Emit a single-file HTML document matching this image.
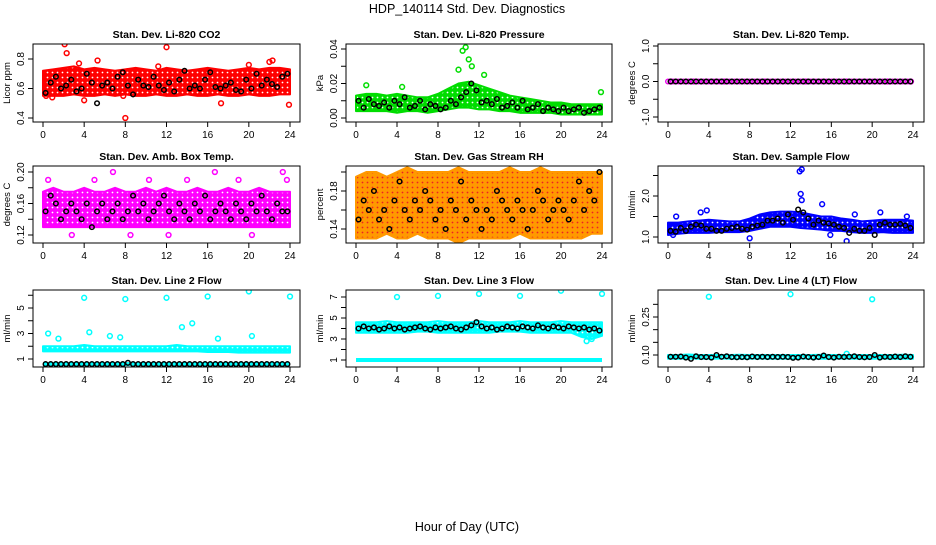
<!DOCTYPE html>
<html><head><meta charset="utf-8"><style>
body{margin:0;background:#fff}
svg text{font-family:"Liberation Sans",sans-serif}
</style></head><body>
<svg id="c" width="936" height="540" xmlns="http://www.w3.org/2000/svg">
<rect width="936" height="540" fill="#fff"/>
<text x="467" y="13" text-anchor="middle" font-size="12.5">HDP_140114  Std. Dev. Diagnostics</text>
<text x="467" y="531" text-anchor="middle" font-size="12.5">Hour of Day (UTC)</text>
</svg>
<script>
// ---- data ----
const bandHours=[0,1,2,3,4,5,6,7,8,9,10,11,12,13,14,15,16,17,18,19,20,21,22,23,24];
const xTicks=[0,4,8,12,16,20,24];
const co2Lo=[0.55,0.55,0.55,0.56,0.55,0.55,0.56,0.55,0.56,0.55,0.55,0.56,0.55,0.55,0.56,0.55,0.55,0.56,0.55,0.55,0.56,0.55,0.55,0.56,0.56];
const co2Hi=[0.72,0.73,0.74,0.75,0.73,0.74,0.73,0.72,0.73,0.74,0.73,0.72,0.74,0.73,0.72,0.73,0.74,0.73,0.72,0.73,0.74,0.73,0.74,0.74,0.73];
const co2Black=[0.57,0.64,0.68,0.60,0.62,0.66,0.58,0.60,0.70,0.64,0.50,0.62,0.64,0.60,0.68,0.71,0.62,0.56,0.66,0.62,0.61,0.68,0.62,0.59,0.64,0.58,0.66,0.72,0.60,0.62,0.60,0.66,0.71,0.61,0.60,0.62,0.64,0.59,0.58,0.66,0.60,0.70,0.62,0.66,0.63,0.61,0.68,0.70];
const co2OutH=[0.3,2.1,2.3,3.5,4.0,5.3,7.8,8.0,11.2,12.0,17.3,20.0,22.0,22.3,23.9,0.9];
const co2OutV=[0.55,0.90,0.84,0.77,0.52,0.79,0.55,0.40,0.75,0.88,0.50,0.76,0.78,0.79,0.49,0.54];
const presLo=[0.004,0.004,0.004,0.004,0.003,0.004,0.004,0.003,0.004,0.005,0.006,0.006,0.005,0.005,0.004,0.004,0.003,0.003,0.003,0.003,0.002,0.002,0.002,0.002,0.002];
const presHi=[0.013,0.014,0.014,0.013,0.014,0.013,0.012,0.012,0.014,0.017,0.02,0.021,0.019,0.017,0.015,0.013,0.012,0.011,0.01,0.009,0.009,0.008,0.008,0.008,0.008];
const presBlack=[0.010,0.006,0.011,0.008,0.007,0.009,0.006,0.010,0.008,0.012,0.006,0.007,0.010,0.005,0.008,0.007,0.005,0.006,0.010,0.008,0.012,0.015,0.020,0.016,0.009,0.010,0.008,0.011,0.006,0.007,0.009,0.006,0.010,0.005,0.006,0.008,0.004,0.006,0.005,0.004,0.006,0.004,0.005,0.006,0.003,0.004,0.005,0.006];
const presOutH=[1.0,4.5,10.0,10.4,10.7,11.0,11.3,12.5,23.9];
const presOutV=[0.019,0.018,0.028,0.039,0.041,0.034,0.030,0.025,0.015];
const tempLo=[0,0,0,0,0,0,0,0,0,0,0,0,0,0,0,0,0,0,0,0,0,0,0,0,0];
const tempHi=[0,0,0,0,0,0,0,0,0,0,0,0,0,0,0,0,0,0,0,0,0,0,0,0,0];
const tempBlack=[0,0,0,0,0,0,0,0,0,0,0,0,0,0,0,0,0,0,0,0,0,0,0,0,0,0,0,0,0,0,0,0,0,0,0,0,0,0,0,0,0,0,0,0,0,0,0,0];
const tempOutH=[0.3,2.5,5.5,9.5,13.5,17.5,21.5,23.8];
const tempOutV=[0,0,0,0,0,0,0,0];
const ambLo=[0.13,0.13,0.13,0.13,0.13,0.13,0.13,0.13,0.13,0.13,0.13,0.13,0.13,0.13,0.13,0.13,0.13,0.13,0.13,0.13,0.13,0.13,0.13,0.13,0.13];
const ambHi=[0.175,0.18,0.175,0.175,0.18,0.175,0.175,0.18,0.175,0.175,0.18,0.175,0.18,0.175,0.175,0.18,0.175,0.175,0.18,0.175,0.175,0.18,0.175,0.175,0.175];
const ambBlack=[0.15,0.17,0.16,0.14,0.15,0.16,0.15,0.14,0.16,0.13,0.15,0.16,0.14,0.15,0.16,0.14,0.15,0.17,0.15,0.16,0.14,0.15,0.16,0.17,0.15,0.14,0.16,0.15,0.14,0.16,0.15,0.17,0.14,0.15,0.16,0.15,0.14,0.16,0.15,0.14,0.16,0.15,0.17,0.15,0.14,0.16,0.15,0.15];
const ambOutH=[0.5,2.8,5.0,6.8,8.5,10.3,12.2,14.0,16.7,19.0,20.3,23.3,23.7];
const ambOutV=[0.19,0.12,0.19,0.20,0.12,0.19,0.12,0.19,0.20,0.19,0.12,0.20,0.19];
const rhLo=[0.13,0.13,0.13,0.135,0.13,0.13,0.135,0.13,0.13,0.13,0.125,0.13,0.13,0.13,0.13,0.13,0.135,0.13,0.13,0.13,0.13,0.13,0.13,0.135,0.135];
const rhHi=[0.195,0.2,0.2,0.195,0.2,0.205,0.2,0.2,0.2,0.2,0.205,0.2,0.2,0.2,0.2,0.205,0.2,0.2,0.205,0.2,0.2,0.2,0.2,0.2,0.2];
const rhBlack=[0.15,0.17,0.16,0.18,0.15,0.16,0.14,0.17,0.19,0.16,0.15,0.17,0.16,0.18,0.17,0.15,0.16,0.14,0.17,0.16,0.19,0.15,0.17,0.16,0.14,0.16,0.15,0.18,0.17,0.16,0.15,0.17,0.16,0.14,0.16,0.18,0.17,0.15,0.16,0.17,0.16,0.15,0.17,0.19,0.16,0.18,0.17,0.2];
const rhOutH=[1.5,5.3,7.7,10.1,11.7,15.5,19.0,23.5];
const rhOutV=[0.21,0.22,0.21,0.12,0.12,0.21,0.21,0.21];
const sfLo=[1.05,1.08,1.1,1.1,1.1,1.12,1.12,1.12,1.15,1.2,1.25,1.25,1.25,1.22,1.2,1.18,1.15,1.15,1.12,1.1,1.1,1.12,1.1,1.1,1.1];
const sfHi=[1.35,1.35,1.38,1.4,1.42,1.4,1.38,1.38,1.45,1.55,1.6,1.62,1.62,1.6,1.55,1.5,1.5,1.45,1.42,1.38,1.4,1.42,1.42,1.42,1.4];
const sfBlack=[1.15,1.13,1.22,1.15,1.25,1.3,1.28,1.2,1.2,1.15,1.15,1.2,1.22,1.25,1.2,1.18,1.25,1.28,1.3,1.4,1.4,1.45,1.35,1.55,1.42,1.67,1.6,1.45,1.3,1.4,1.35,1.33,1.3,1.25,1.22,1.1,1.2,1.15,1.15,1.22,1.05,1.3,1.35,1.3,1.3,1.32,1.28,1.22];
const sfOutH=[0.5,0.8,3.2,3.8,8.0,12.9,13.0,13.1,13.1,15.1,15.9,17.5,18.3,20.8,23.4];
const sfOutV=[1.05,1.5,1.6,1.65,0.97,2.6,2.05,1.9,2.65,1.8,1.05,0.9,1.55,1.6,1.5];
const l2Lo=[1.6,1.6,1.6,1.6,1.6,1.6,1.6,1.6,1.6,1.6,1.6,1.6,1.6,1.6,1.6,1.6,1.55,1.55,1.55,1.5,1.5,1.5,1.5,1.5,1.5];
const l2Hi=[2.0,2.0,2.0,2.0,2.1,2.0,2.0,2.0,2.0,2.0,2.0,2.0,2.0,2.1,2.0,2.0,2.0,2.0,2.0,2.0,2.0,2.0,2.0,2.0,2.0];
const l2Black=[0.6,0.6,0.6,0.6,0.6,0.6,0.6,0.6,0.6,0.6,0.6,0.6,0.6,0.6,0.6,0.6,0.7,0.6,0.6,0.6,0.6,0.6,0.6,0.6,0.6,0.6,0.6,0.6,0.6,0.6,0.6,0.6,0.6,0.6,0.6,0.6,0.6,0.6,0.6,0.6,0.6,0.6,0.6,0.6,0.6,0.6,0.6,0.6];
const l2OutH=[0.5,1.5,4.0,4.5,6.5,7.5,8.0,12.0,13.5,14.5,16.0,17.0,20.0,20.3,24.0];
const l2OutV=[3.0,2.6,5.8,3.1,2.8,2.7,5.7,5.8,3.5,3.8,5.9,2.6,6.3,2.8,5.9];
const l3Lo=[3.6,3.6,3.6,3.6,3.6,3.6,3.7,3.7,3.6,3.6,3.6,3.6,3.6,3.6,3.7,3.7,3.7,3.6,3.6,3.6,3.6,3.6,3.2,3.0,3.3];
const l3Hi=[4.6,4.6,4.6,4.7,4.6,4.6,4.6,4.6,4.7,4.6,4.6,4.6,4.7,4.6,4.6,4.6,4.7,4.6,4.6,4.6,4.7,4.6,4.6,4.6,4.6];
const l3Black=[4.0,4.2,4.0,4.1,3.9,4.0,4.2,4.0,4.1,3.9,4.0,4.1,4.2,4.0,3.9,4.1,4.0,4.1,4.2,4.0,3.9,4.1,4.3,4.6,4.2,4.0,4.1,3.9,4.0,4.2,4.1,4.0,4.2,4.1,4.0,4.3,4.1,4.0,4.2,4.1,4.0,4.2,4.1,4.0,4.1,3.9,4.0,3.8];
const l3OutH=[4.0,8.0,12.0,16.0,20.0,24.0,22.5,23.0];
const l3OutV=[7.0,7.1,7.3,7.1,7.6,7.3,2.8,3.0];
const l4Lo=[0.085,0.085,0.086,0.085,0.085,0.086,0.085,0.085,0.085,0.086,0.085,0.085,0.085,0.086,0.085,0.085,0.085,0.086,0.085,0.085,0.085,0.086,0.085,0.085,0.085];
const l4Hi=[0.1,0.1,0.102,0.1,0.1,0.1,0.1,0.101,0.1,0.1,0.1,0.1,0.1,0.1,0.1,0.101,0.1,0.1,0.1,0.1,0.1,0.1,0.1,0.101,0.1];
const l4Black=[0.093,0.093,0.094,0.09,0.085,0.095,0.092,0.092,0.09,0.1,0.093,0.095,0.092,0.091,0.092,0.091,0.094,0.092,0.093,0.092,0.093,0.092,0.093,0.092,0.089,0.09,0.094,0.092,0.09,0.092,0.098,0.092,0.09,0.093,0.092,0.093,0.095,0.092,0.091,0.092,0.1,0.09,0.093,0.092,0.094,0.092,0.095,0.093];
const l4OutH=[4.0,12.0,20.0,17.5];
const l4OutV=[0.33,0.34,0.32,0.105];

// ---- layout ----
const cols=[{l:33,r:300,x0:43,x1:290},{l:346,r:612,x0:356,x1:602},{l:658,r:924,x0:668,x1:913}];
const rows=[{t:44,b:122},{t:166,b:243},{t:290,b:367}];
const panels=[
 {n:'co2',title:'Stan. Dev. Li-820 CO2',yl:'Licor ppm',c:0,r:0,col:'#f00',v0:0.4,p0:118,v1:0.8,p1:59,ticks:[0.4,0.6,0.8],lab:['0.4','0.6','0.8'],lo:co2Lo,hi:co2Hi,bk:co2Black,oh:co2OutH,ov:co2OutV},
 {n:'pressure',title:'Stan. Dev. Li-820 Pressure',yl:'kPa',c:1,r:0,col:'#0d0',v0:0,p0:118,v1:0.04,p1:49,ticks:[0,0.01,0.02,0.03,0.04],lab:['0.00','','0.02','','0.04'],lo:presLo,hi:presHi,bk:presBlack,oh:presOutH,ov:presOutV},
 {n:'temp',title:'Stan. Dev. Li-820 Temp.',yl:'degrees C',c:2,r:0,col:'#e0e',v0:-1,p0:117,v1:1,p1:46,ticks:[-1,-0.5,0,0.5,1],lab:['-1.0','','0.0','','1.0'],lo:tempLo,hi:tempHi,bk:tempBlack,oh:tempOutH,ov:tempOutV},
 {n:'amb-box',title:'Stan. Dev. Amb. Box Temp.',yl:'degrees C',c:0,r:1,col:'#f0f',v0:0.12,p0:235,v1:0.20,p1:172,ticks:[0.12,0.14,0.16,0.18,0.20],lab:['0.12','','0.16','','0.20'],lo:ambLo,hi:ambHi,bk:ambBlack,oh:ambOutH,ov:ambOutV},
 {n:'gas-rh',title:'Stan. Dev. Gas Stream RH',yl:'percent',c:1,r:1,col:'#f90',v0:0.14,p0:229,v1:0.18,p1:191,ticks:[0.14,0.16,0.18,0.20],lab:['0.14','','0.18',''],lo:rhLo,hi:rhHi,bk:rhBlack,oh:rhOutH,ov:rhOutV},
 {n:'sample-flow',title:'Stan. Dev. Sample Flow',yl:'ml/min',c:2,r:1,col:'#00f',v0:1,p0:237,v1:2,p1:196,ticks:[1,1.5,2,2.5],lab:['1.0','','2.0',''],lo:sfLo,hi:sfHi,bk:sfBlack,oh:sfOutH,ov:sfOutV},
 {n:'line2',title:'Stan. Dev. Line 2 Flow',yl:'ml/min',c:0,r:2,col:'#0ff',v0:1,p0:359,v1:5,p1:308,ticks:[1,2,3,4,5,6],lab:['1','','3','','5',''],lo:l2Lo,hi:l2Hi,bk:l2Black,oh:l2OutH,ov:l2OutV},
 {n:'line3',title:'Stan. Dev. Line 3 Flow',yl:'ml/min',c:1,r:2,col:'#0ff',v0:1,p0:360,v1:7,p1:297,ticks:[1,2,3,4,5,6,7],lab:['1','','3','','5','','7'],lo:l3Lo,hi:l3Hi,bk:l3Black,oh:l3OutH,ov:l3OutV,extra:1.0},
 {n:'line4',title:'Stan. Dev. Line 4 (LT) Flow',yl:'ml/min',c:2,r:2,col:'#0ff',v0:0.10,p0:355,v1:0.25,p1:317,ticks:[0.10,0.15,0.20,0.25,0.30],lab:['0.10','','','0.25',''],lo:l4Lo,hi:l4Hi,bk:l4Black,oh:l4OutH,ov:l4OutV}
];
const svg=document.getElementById('c');
const NS='http://www.w3.org/2000/svg';
function mk(tag,attrs,parent){const e=document.createElementNS(NS,tag);for(const k in attrs)e.setAttribute(k,attrs[k]);(parent||svg).appendChild(e);return e;}
const defs=mk('defs',{});
panels.forEach(p=>{
 const C=cols[p.c],R=rows[p.r];
 const pid='pat'+p.n;
 const pat=mk('pattern',{id:pid,width:5,height:5,patternUnits:'userSpaceOnUse'},defs);
 mk('rect',{width:5,height:5,fill:p.col},pat);
 mk('circle',{cx:2.5,cy:2.5,r:0.9,fill:p.n==='gas-rh'?'#e22':'#fff'},pat);
 const g=mk('g',{});
 
 
 const xs=h=>C.x0+(C.x1-C.x0)*h/24;
 const ys=v=>p.p0+(p.p1-p.p0)*(v-p.v0)/(p.v1-p.v0);
 const clip='cl'+p.n;
 const cp=mk('clipPath',{id:clip},g);mk('rect',{x:C.l,y:R.t,width:C.r-C.l,height:R.b-R.t},cp);
 const dg=mk('g',{'clip-path':'url(#'+clip+')'},g);
 let pts=[];bandHours.forEach((h,i)=>pts.push(xs(h)+','+ys(p.hi[i])));
 for(let i=bandHours.length-1;i>=0;i--)pts.push(xs(bandHours[i])+','+ys(p.lo[i]));
 if(p.n!=='temp'){
  const band=mk('polygon',{points:pts.join(' '),fill:'url(#'+pid+')',stroke:p.col,'stroke-width':2,'stroke-linejoin':'round'},dg);
  
  
 }
 if(p.extra!==undefined){const l=mk('line',{x1:xs(0),x2:xs(24),y1:ys(p.extra),y2:ys(p.extra),stroke:p.col,'stroke-width':4},dg);}
 if(p.n==='line2'){const l=mk('line',{x1:xs(0),x2:xs(24),y1:ys(0.6),y2:ys(0.6),stroke:p.col,'stroke-width':4},dg);}
 if(p.n==='temp'){bandHours.forEach((h,i)=>{if(i>=24)return;for(let k=0;k<4;k++){const d=mk('circle',{cx:xs(h+k*0.25),cy:ys(0),r:2.3,fill:'none',stroke:p.col,'stroke-width':1.4},dg);}});}
 p.oh.forEach((h,i)=>{const d=mk('circle',{cx:xs(h),cy:ys(p.ov[i]),r:2.4,fill:'none',stroke:p.col,'stroke-width':1.5},dg);});
 p.bk.forEach((v,i)=>{const d=mk('circle',{cx:xs(0.25+i*0.5),cy:ys(v),r:2.3,fill:'none',stroke:'#000','stroke-width':1.5},dg);});
 const box=mk('rect',{x:C.l,y:R.t,width:C.r-C.l,height:R.b-R.t,fill:'none',stroke:'#000','stroke-width':1},g);
 
 const t=mk('text',{x:(C.l+C.r)/2,y:R.t-6,'text-anchor':'middle','font-size':10.5,'font-weight':'bold'},g);t.textContent=p.title;
 
 xTicks.forEach(h=>{mk('line',{x1:xs(h),x2:xs(h),y1:R.b,y2:R.b+5,stroke:'#000'},g);const tx=mk('text',{x:xs(h),y:R.b+16,'text-anchor':'middle','font-size':10},g);tx.textContent=h;});
 p.ticks.forEach((v,i)=>{const y=ys(v);if(y<R.t-1||y>R.b+1)return;mk('line',{x1:C.l-5,x2:C.l,y1:y,y2:y,stroke:'#000'},g);if(p.lab[i]){const tx=mk('text',{x:C.l-9,y:y,'text-anchor':'middle','font-size':10,transform:'rotate(-90 '+(C.l-9)+' '+y+')'},g);tx.textContent=p.lab[i];}});
 const yl=C.l-23,ym=(R.t+R.b)/2;
 const ytl=mk('text',{x:yl,y:ym,'text-anchor':'middle','font-size':9.5,transform:'rotate(-90 '+yl+' '+ym+')'},g);ytl.textContent=p.yl;
 
});
</script>
</body></html>
